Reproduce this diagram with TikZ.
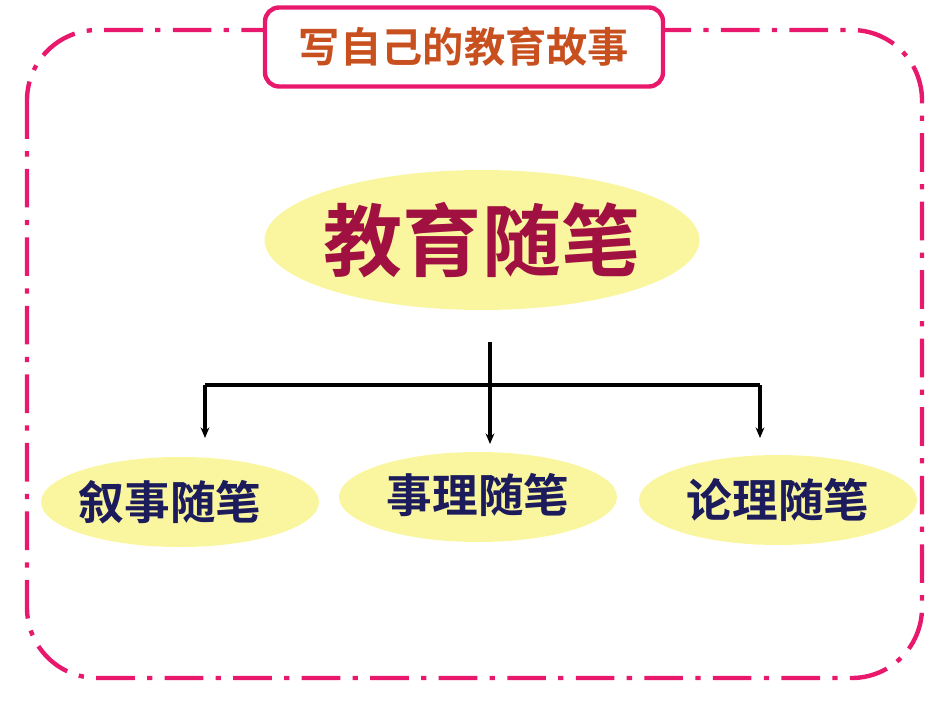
\documentclass[tikz,border=0pt]{standalone}
\usepackage{fontspec}
\newfontfamily\cjk{Noto Sans CJK SC Bold}
\usetikzlibrary{arrows.meta,shapes.geometric}
\definecolor{pinkc}{HTML}{E8186C}
\definecolor{yel}{HTML}{FAF6A0}
\definecolor{ttl}{HTML}{C8501E}
\definecolor{mainc}{HTML}{A01040}
\definecolor{navy}{HTML}{1C1C5C}
\tikzset{
  ell/.style={ellipse, fill=yel, inner sep=0pt},
  sub/.style={ell, minimum width=278*0.02cm, minimum height=90*0.02cm},
  subtxt/.style={text=navy, font=\cjk\fontsize{26}{28}\selectfont},
  conn/.style={line width=1.9pt},
  arr/.style={conn, -{Stealth[length=6pt,width=5pt]}}
}
\begin{document}
\begin{tikzpicture}[x=0.02cm,y=-0.02cm]
\useasboundingbox (0,0) rectangle (950,713);
\draw[pinkc, line width=2.5pt, rounded corners=40, dash pattern=on 22pt off 7pt on 3pt off 7pt] (27,30) rectangle (922,678);
\node[draw=pinkc, line width=2.5pt, fill=white, rounded corners=8, minimum width=398*0.02cm, minimum height=79*0.02cm, text=ttl, font=\cjk\fontsize{23.5}{26}\selectfont] (title) at (464,47) {写自己的教育故事};
\node[ell, minimum width=435*0.02cm, minimum height=140*0.02cm] (main) at (482,240) {};
\node[text=mainc, font=\cjk\fontsize{45}{48}\selectfont] (maintxt) at (main) {教育随笔};
\node[sub] (a) at (180,502) {};
\node[subtxt] (atxt) at (170,502) {叙事随笔};
\node[sub] (b) at (478,497) {};
\node[subtxt] (btxt) at (478,495) {事理随笔};
\node[sub] (c) at (778,500) {};
\node[subtxt] (ctxt) at (778,500) {论理随笔};
\coordinate (top) at (490,342);
\coordinate (l) at (205,385);
\coordinate (r) at (760,385);
\coordinate (la) at (205,438);
\coordinate (ma) at (490,444);
\coordinate (ra) at (760,438);
\draw[conn] (l) -- (r);
\draw[arr] (top) -- (ma);
\draw[arr] (l) -- (la);
\draw[arr] (r) -- (ra);
\end{tikzpicture}
\end{document}
